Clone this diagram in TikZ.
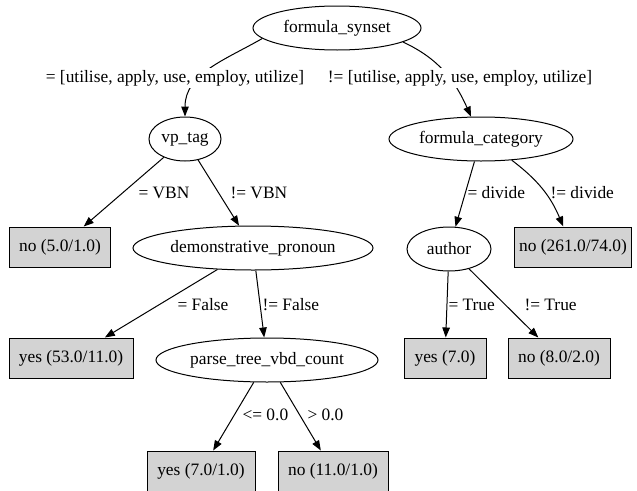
\documentclass[tikz,border=0pt]{standalone}
\usepackage{fontspec}
\setmainfont{Liberation Serif}
\usepackage{xcolor}
\usepackage{tikz}
\usetikzlibrary{arrows.meta}
\usetikzlibrary{shapes.geometric}

\definecolor{leafgray}{HTML}{D3D3D3}

\begin{document}
\begin{tikzpicture}[x=1pt,y=-1pt,line width=1pt,font=\fontsize{17.4}{20}\selectfont]
        \tikzstyle{split}=[ellipse,draw,inner sep=0pt,minimum height=44pt]
        \tikzstyle{leaf}=[rectangle,draw,fill=leafgray,inner sep=0pt,minimum height=40pt]
        \tikzstyle{cond}=[inner sep=0pt,anchor=west]
        \tikzstyle{branch}=[-{Triangle[length=10pt,width=7.5pt]}]
        \useasboundingbox (0,0) rectangle (637,490);
        \clip (0,0) rectangle (637,490);
        \node[split,minimum width=168pt] (synset) at (337,28) {formula\_synset};
        \node[split,minimum width=72pt] (vptag) at (185,139) {vp\_tag};
        \node[split,minimum width=184pt] (fcat) at (481,139) {formula\_category};
        \node[leaf,minimum width=101pt] (no5) at (60,247) {no (5.0/1.0)};
        \node[split,minimum width=240pt] (demo) at (253,248) {demonstrative\_pronoun};
        \node[split,minimum width=84pt] (author) at (449,249) {author};
        \node[leaf,minimum width=117pt] (no261) at (573,247) {no (261.0/74.0)};
        \node[leaf,minimum width=124pt] (yes53) at (71,358) {yes (53.0/11.0)};
        \node[split,minimum width=222pt] (parse) at (267,360) {parse\_tree\_vbd\_count};
        \node[leaf,minimum width=82pt] (yes7) at (445,358) {yes (7.0)};
        \node[leaf,minimum width=102pt] (no8) at (559,358) {no (8.0/2.0)};
        \node[leaf,minimum width=108pt] (yes71) at (201,471) {yes (7.0/1.0)};
        \node[leaf,minimum width=110pt] (no111) at (333,471) {no (11.0/1.0)};
        \draw[branch] (synset.188) to[out=-150,in=90] (vptag);
        \draw[branch] (synset.-12) to[out=-25,in=114] (fcat);
        \draw[branch] (vptag) -- (no5);
        \draw[branch] (vptag) -- (demo);
        \draw[branch] (fcat) -- (author);
        \draw[branch] (fcat) to[bend left=15] (no261);
        \draw[branch] (demo) -- (yes53);
        \draw[branch] (demo) -- (parse);
        \draw[branch] (author) -- (yes7);
        \draw[branch] (author) -- (no8);
        \draw[branch] (parse) -- (yes71);
        \draw[branch] (parse) -- (no111);
        \node[cond,anchor=center,fill=white,inner sep=2pt] (inset) at (175,78) {= [utilise, apply, use, employ, utilize]};
        \node[cond,anchor=center,fill=white,inner sep=2pt] (notinset) at (460,78) {!= [utilise, apply, use, employ, utilize]};
        \node[cond] (isvbn) at (138,193) {= VBN};
        \node[cond] (notvbn) at (230,193) {!= VBN};
        \node[cond] (isdiv) at (467,193) {= divide};
        \node[cond] (notdiv) at (550,193) {!= divide};
        \node[cond] (isfalse) at (177,305) {= False};
        \node[cond] (notfalse) at (262,305) {!= False};
        \node[cond] (istrue) at (448,305) {= True};
        \node[cond] (nottrue) at (524,305) {!= True};
        \node[cond] (atmost) at (242,415) {<= 0.0};
        \node[cond] (above) at (307,415) {> 0.0};
\end{tikzpicture}
\end{document}
